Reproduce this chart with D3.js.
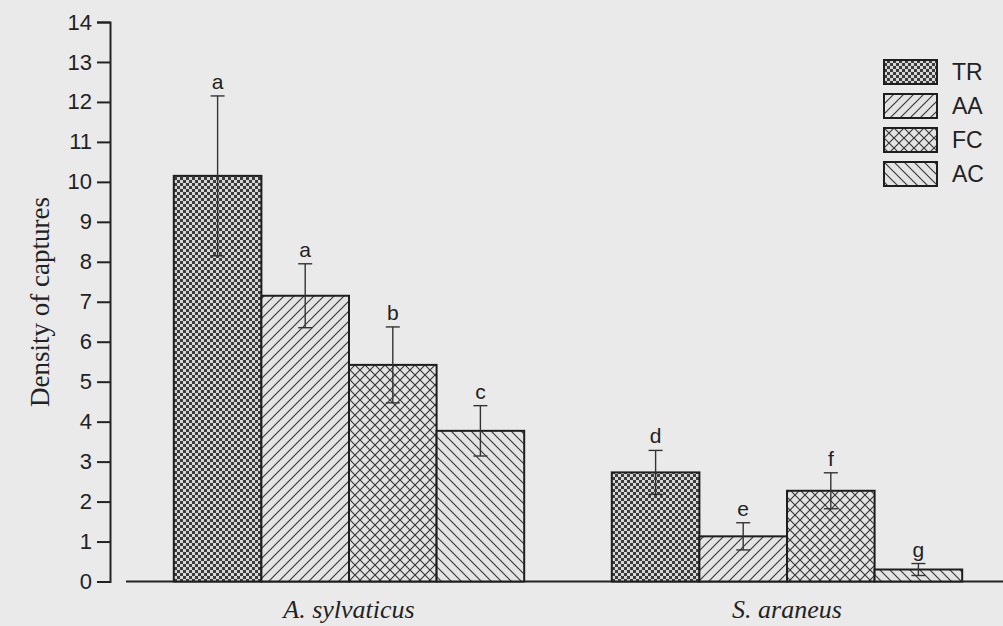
<!DOCTYPE html>
<html>
<head>
<meta charset="utf-8">
<script src="https://cdn.jsdelivr.net/npm/d3@7"></script>
<style>
  html, body { margin: 0; padding: 0; background: #eaeaea; }
  svg { display: block; }
</style>
</head>
<body>
<script>
// Species groups and trap treatments
const species = ["A. sylvaticus", "S. araneus"];
const treatments = ["TR", "AA", "FC", "AC"];

// Mean density of captures per treatment, one array per species
const sylvaticusMeans = [10.15, 7.15, 5.42, 3.77];
const araneusMeans = [2.73, 1.13, 2.27, 0.30];

// Error bar half-lengths
const sylvaticusErr = [2.0, 0.8, 0.95, 0.63];
const araneusErr = [0.55, 0.34, 0.45, 0.15];

// Significance letters above each bar
const sylvaticusLetters = ["a", "a", "b", "c"];
const araneusLetters = ["d", "e", "f", "g"];

const yTicks = d3.range(0, 15);

const rows = [];
species.forEach((sp, i) => {
  const means = i === 0 ? sylvaticusMeans : araneusMeans;
  const errs = i === 0 ? sylvaticusErr : araneusErr;
  const letters = i === 0 ? sylvaticusLetters : araneusLetters;
  treatments.forEach((t, j) => {
    rows.push({ species: sp, treatment: t, value: means[j], err: errs[j], letter: letters[j] });
  });
});

const W = 1003, H = 626;
const svg = d3.select("body").append("svg").attr("width", W).attr("height", H);

svg.append("rect").attr("width", W).attr("height", H).attr("fill", "#eaeaea");

// Fill patterns
const defs = svg.append("defs");
const ink = "#3a3a3a";

const checker = defs.append("pattern").attr("id", "pat-TR")
  .attr("patternUnits", "userSpaceOnUse").attr("width", 6).attr("height", 6);
checker.append("rect").attr("width", 6).attr("height", 6).attr("fill", "#3c3c3c");
checker.append("rect").attr("x", 0).attr("y", 0).attr("width", 3).attr("height", 3).attr("fill", "#d6d6d6");
checker.append("rect").attr("x", 3).attr("y", 3).attr("width", 3).attr("height", 3).attr("fill", "#d6d6d6");

function hatch(id, angles) {
  const p = defs.append("pattern").attr("id", id)
    .attr("patternUnits", "userSpaceOnUse").attr("width", 10).attr("height", 10);
  p.append("rect").attr("width", 10).attr("height", 10).attr("fill", "#e4e4e4");
  angles.forEach(a => {
    if (a === "/") {
      p.append("path").attr("d", "M-2,2 L2,-2 M0,10 L10,0 M8,12 L12,8");
    } else {
      p.append("path").attr("d", "M-2,8 L2,12 M0,0 L10,10 M8,-2 L12,2");
    }
  });
  p.selectAll("path").attr("stroke", ink).attr("stroke-width", 1.2).attr("fill", "none");
}
hatch("pat-AA", ["/"]);
hatch("pat-FC", ["/", "\\"]);
hatch("pat-AC", ["\\"]);

// Scales
const y = d3.scaleLinear().domain([0, 14]).range([581.5, 22]);
const x0 = d3.scaleBand().domain(species).range([130, 1006]).paddingInner(0.2).paddingOuter(0.1);
const x1 = d3.scaleBand().domain(treatments).range([0, x0.bandwidth()]);

// Y axis
const yAxis = d3.axisLeft(y).tickValues(yTicks).tickSize(13).tickPadding(5).tickSizeOuter(13);
const gy = svg.append("g").attr("transform", "translate(110,0)").call(yAxis);
gy.attr("font-family", null).attr("font-size", null);
gy.select(".domain").attr("stroke", "#222").attr("stroke-width", 2);
gy.selectAll(".tick line").attr("stroke", "#222").attr("stroke-width", 2);
gy.selectAll(".tick text")
  .style("font-family", "'Liberation Sans', Arial, sans-serif")
  .style("font-size", "22px").attr("fill", "#222");

// Baseline
svg.append("line").attr("x1", 126).attr("x2", W).attr("y1", y(0)).attr("y2", y(0))
  .attr("stroke", "#222").attr("stroke-width", 2);

// Bars
svg.append("g").selectAll("rect").data(rows).join("rect")
  .attr("x", d => x0(d.species) + x1(d.treatment))
  .attr("width", x1.bandwidth())
  .attr("y", d => y(d.value))
  .attr("height", d => y(0) - y(d.value))
  .attr("fill", d => `url(#pat-${d.treatment})`)
  .attr("stroke", "#1e1e1e").attr("stroke-width", 2);

// Error bars
const cap = 7;
const eb = svg.append("g").attr("stroke", "#333").attr("stroke-width", 1.4);
rows.forEach(d => {
  const cx = x0(d.species) + x1(d.treatment) + x1.bandwidth() / 2;
  const hi = y(d.value + d.err), lo = y(d.value - d.err);
  eb.append("line").attr("x1", cx).attr("x2", cx).attr("y1", hi).attr("y2", lo);
  eb.append("line").attr("x1", cx - cap).attr("x2", cx + cap).attr("y1", hi).attr("y2", hi);
  eb.append("line").attr("x1", cx - cap).attr("x2", cx + cap).attr("y1", lo).attr("y2", lo);
});

// Letters
svg.append("g").selectAll("text").data(rows).join("text")
  .attr("x", d => x0(d.species) + x1(d.treatment) + x1.bandwidth() / 2)
  .attr("y", d => y(d.value + d.err) - 7)
  .attr("text-anchor", "middle")
  .style("font-family", "'Liberation Sans', Arial, sans-serif")
  .style("font-size", "21px").attr("fill", "#222")
  .text(d => d.letter);

// Category labels
svg.append("g").selectAll("text").data(species).join("text")
  .attr("x", d => x0(d) + x0.bandwidth() / 2)
  .attr("y", 618)
  .attr("text-anchor", "middle")
  .style("font-family", "'Liberation Serif', 'Times New Roman', serif")
  .style("font-style", "italic")
  .style("font-size", "26px").attr("fill", "#222")
  .text(d => d);

// Y axis title
svg.append("text")
  .attr("transform", "translate(49,302) rotate(-90)")
  .attr("text-anchor", "middle")
  .style("font-family", "'Liberation Serif', 'Times New Roman', serif")
  .style("font-size", "27px").attr("fill", "#222")
  .text("Density of captures");

// Legend
const legend = svg.append("g").attr("transform", "translate(884,60)");
const li = legend.selectAll("g").data(treatments).join("g")
  .attr("transform", (d, i) => `translate(0,${i * 34})`);
li.append("rect").attr("width", 53).attr("height", 24)
  .attr("fill", d => `url(#pat-${d})`)
  .attr("stroke", "#1e1e1e").attr("stroke-width", 2);
li.append("text").attr("x", 68).attr("y", 20)
  .style("font-family", "'Liberation Sans', Arial, sans-serif")
  .style("font-size", "23px").attr("fill", "#222")
  .text(d => d);
</script>
</body>
</html>
